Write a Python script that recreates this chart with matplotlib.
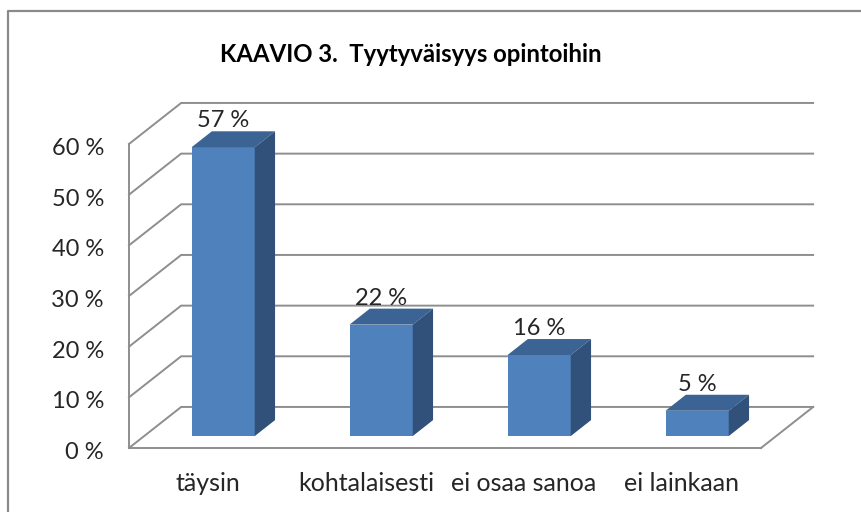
import matplotlib
matplotlib.use('Agg')
import matplotlib.pyplot as plt
from matplotlib.lines import Line2D
from matplotlib.patches import Polygon
from matplotlib.transforms import ScaledTranslation

plt.rcParams['font.family'] = ['Lato', 'DejaVu Sans']

categories = ['täysin', 'kohtalaisesti', 'ei osaa sanoa', 'ei lainkaan']
values = [57, 22, 16, 5]
y_ticks = [0, 10, 20, 30, 40, 50, 60]
title = 'KAAVIO 3.  Tyytyväisyys opintoihin'

# fake 3D: how far the back wall is shifted, in data units
depth_x = 0.33
depth_y = 8.1
bar_width = 0.4
bar_front = 0.29
bar_back = 0.68
grid_color = '#8e8e8e'


def project(x, y, depth):
    return x + depth * depth_x, y + depth * depth_y


fig = plt.figure(figsize=(8.62, 5.12), dpi=100)
ax = fig.add_axes([129 / 862, 64 / 512, 632 / 862, 304 / 512])
ax.set_xlim(0, len(categories))
ax.set_ylim(0, 60)

# walls and floor
for t in y_ticks:
    x0, y0 = project(0, t, 0)
    x1, y1 = project(0, t, 1)
    x2, y2 = project(len(categories), t, 1)
    ax.plot([x0, x1, x2], [y0, y1, y2], color=grid_color, lw=1.4, clip_on=False, zorder=1,
            solid_joinstyle='miter')
x3, y3 = project(len(categories), 0, 1)
ax.plot([len(categories), x3], [0, y3], color=grid_color, lw=1.4, clip_on=False, zorder=1)

# bars
positions = [i + 0.5 for i in range(len(categories))]
for x, v in zip(positions, values):
    left = x - bar_width / 2
    right = x + bar_width / 2
    fx, base = project(left, 0, bar_front)
    ax.bar(fx, v, width=bar_width, bottom=base, align='edge', color='#4f81bd', clip_on=False, zorder=3)
    top = [project(left, v, bar_front), project(right, v, bar_front),
           project(right, v, bar_back), project(left, v, bar_back)]
    side = [project(right, 0, bar_front), project(right, 0, bar_back),
            project(right, v, bar_back), project(right, v, bar_front)]
    ax.add_patch(Polygon(top, closed=True, facecolor='#3b6393', edgecolor='none', clip_on=False, zorder=3))
    ax.add_patch(Polygon(side, closed=True, facecolor='#31517b', edgecolor='none', clip_on=False, zorder=3))
    lx, _ = project(x, v, bar_front)
    _, ly = project(x, v, bar_back)
    ax.annotate(f'{v} %', (lx, ly), xytext=(0, 7.5), textcoords='offset points',
                ha='center', va='center', fontsize=17, color='#262626', zorder=4,
                annotation_clip=False)

for name in ['top', 'right']:
    ax.spines[name].set_visible(False)
for name in ['left', 'bottom']:
    ax.spines[name].set_color(grid_color)
    ax.spines[name].set_linewidth(1.4)

ax.set_yticks(y_ticks)
ax.set_yticklabels([f'{t} %' for t in y_ticks], fontsize=17, color='#262626')
ax.set_xticks(positions)
ax.set_xticklabels(categories, fontsize=18, color='#262626')
ax.tick_params(axis='y', length=0, pad=18)
ax.tick_params(axis='x', length=0, pad=17)
ax.patch.set_alpha(0)

# tick labels sit a little below their gridline in the original
shift = ScaledTranslation(0, -2.5 / 100, fig.dpi_scale_trans)
for label in ax.get_yticklabels():
    label.set_transform(label.get_transform() + shift)

fig.text(411 / 862, 1 - 54 / 512, title, ha='center', va='center', fontsize=17.2, fontweight='bold', color='black')

# outer chart border, the right and bottom edges are cropped off
fig.add_artist(Line2D([8.5 / 862, 8.5 / 862, 1], [0, 1 - 10.5 / 512, 1 - 10.5 / 512], color='#8a8a8a', lw=1.6))

fig.savefig('out.png', dpi=100)
